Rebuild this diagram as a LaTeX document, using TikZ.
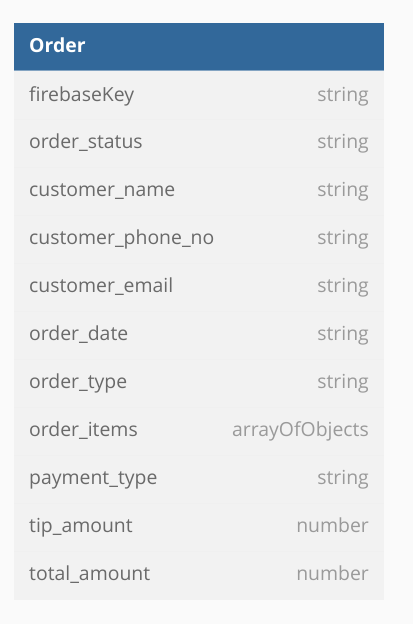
\documentclass[tikz,border=0pt]{standalone}
\usepackage{fontspec}
\setmainfont{Open Sans}
\definecolor{bgc}{HTML}{FAFAFA}
\definecolor{bodyc}{HTML}{F2F2F2}
\definecolor{headc}{HTML}{32689A}
\definecolor{namec}{HTML}{6A6A6A}
\definecolor{typec}{HTML}{9A9A9A}
\definecolor{sepc}{HTML}{F0F0F0}
\tikzset{
  fname/.style={anchor=base west, inner sep=0pt, text=namec, font=\fontsize{19.4}{22}\selectfont},
  ftype/.style={anchor=base east, inner sep=0pt, text=typec, font=\fontsize{19.4}{22}\selectfont},
  htitle/.style={anchor=base west, inner sep=0pt, text=white, font=\bfseries\fontsize{19.4}{22}\selectfont}
}
\begin{document}
\begin{tikzpicture}[x=1pt,y=1pt]
\fill[bgc] (0,0) rectangle (413,-624);
\useasboundingbox (0,0) rectangle (413,-624);
\fill[bodyc] (14,-71) rectangle (384,-600);
\fill[headc] (14,-23) rectangle (384,-71);
\draw[headc!60!white, line width=0.6pt] (14,-70.7) -- (384,-70.7);
\node[htitle] (title) at (29,-52.5) {Order};
\foreach \i/\n/\t in {0/firebaseKey/string,1/order\_status/string,2/customer\_name/string,3/customer\_phone\_no/string,4/customer\_email/string,5/order\_date/string,6/order\_type/string,7/order\_items/arrayOfObjects,8/payment\_type/string,9/tip\_amount/number,10/total\_amount/number}{
  \pgfmathsetmacro{\yb}{-101-47.97*\i}
  \node[fname] (n\i) at (29,\yb) {\n};
  \node[ftype] (t\i) at (369,\yb) {\t};
}
\foreach \i in {1,...,10}{
  \pgfmathsetmacro{\ys}{-71-48*\i}
  \draw[sepc, line width=0.5pt] (14,\ys) -- (384,\ys);
}
\end{tikzpicture}
\end{document}
